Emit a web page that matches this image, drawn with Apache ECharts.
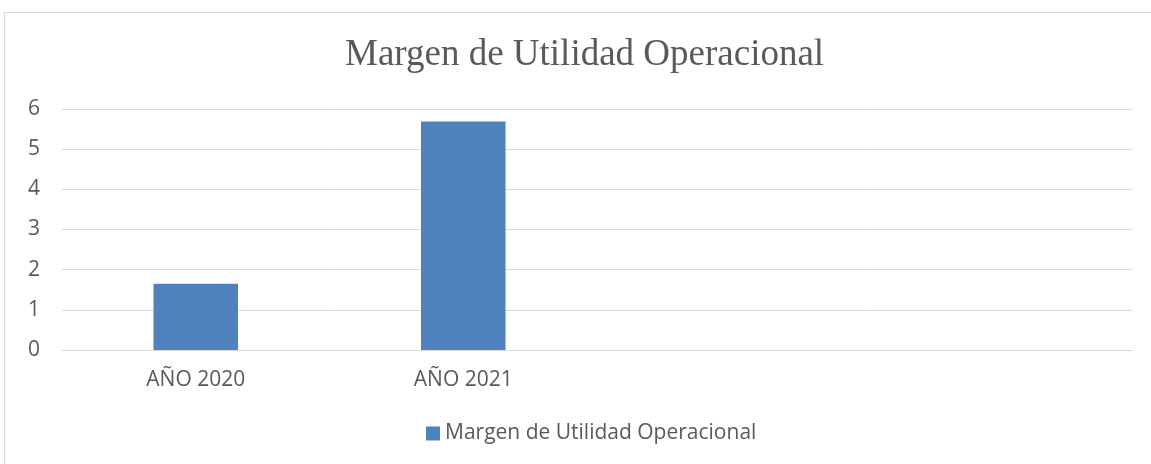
<!DOCTYPE html>
<html><head><meta charset="utf-8">
<script src="https://cdn.jsdelivr.net/npm/echarts@6/dist/echarts.min.js"></script>
<style>
html,body{margin:0;padding:0;background:#fff;}
#frame{position:absolute;left:4px;top:12px;width:1160px;height:470px;border:1px solid #d9d9d9;box-sizing:border-box;}
#c{position:absolute;left:0;top:0;width:1151px;height:464px;}
</style></head>
<body>
<div id="frame"></div>
<div id="c"></div>
<script>
const categories = ['AÑO 2020', 'AÑO 2021', '', ''];
const values = [1.65, 5.69, null, null];
const seriesName = 'Margen de Utilidad Operacional';
const titleText = 'Margen de Utilidad Operacional';

const chart = echarts.init(document.getElementById('c'), null, {renderer: 'canvas'});
chart.setOption({
  animation: false,
  title: {
    text: titleText, left: 340, top: 32,
    textStyle: {fontFamily: 'Liberation Serif', fontSize: 37, fontWeight: 'normal', color: '#595959'}
  },
  legend: {
    bottom: 15, left: 421, itemWidth: 14, itemHeight: 14, itemGap: 6,
    icon: 'rect',
    textStyle: {fontFamily: 'Open Sans', fontSize: 21, color: '#595959'},
    data: [seriesName]
  },
  grid: {left: 62, right: 19, top: 109, bottom: 114, containLabel: false},
  xAxis: {
    type: 'category', data: categories,
    axisLine: {show: true, lineStyle: {color: '#d9d9d9'}},
    axisTick: {show: false},
    axisLabel: {fontFamily: 'Open Sans', fontSize: 21, color: '#595959', margin: 20}
  },
  yAxis: {
    type: 'value', min: 0, max: 6, interval: 1,
    axisLine: {show: false}, axisTick: {show: false},
    splitLine: {lineStyle: {color: '#d9d9d9', width: 1}},
    axisLabel: {fontFamily: 'Open Sans', fontSize: 21, color: '#595959', margin: 22}
  },
  series: [{
    name: seriesName, type: 'bar', data: values, barWidth: '31.6%',
    itemStyle: {color: '#4f81bd'}
  }]
});
</script>
</body></html>
